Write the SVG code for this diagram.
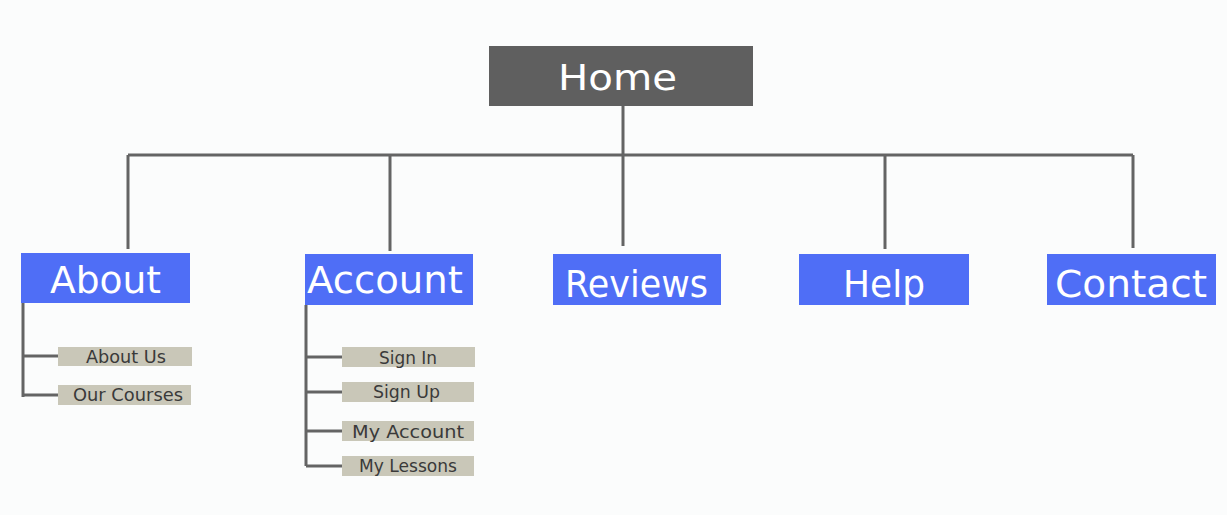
<svg xmlns="http://www.w3.org/2000/svg" width="1227" height="515" viewBox="0 0 1227 515">
<style>
.bg{fill:#fbfcfc}
.home{fill:#5f5f5f}
.main{fill:#4f6ef6}
.sub{fill:#c9c7b8}
.t{font-family:"DejaVu Sans","Liberation Sans",sans-serif;fill:#ffffff;text-anchor:start}
.big{font-size:38px}
.st{font-family:"DejaVu Sans","Liberation Sans",sans-serif;fill:#3a3a3a;font-size:17px}
.ln{stroke:#646464;stroke-width:3;fill:none}
</style>
<rect class="bg" x="0" y="0" width="1227" height="515"/>
<g id="connectors">
<path class="ln" d="M623 106V155M128 155H1133M128 155V249M390 155V251M623 155V246M885 155V249M1133 155V248"/>
<path class="ln" d="M23 303V397M23 356H58M23 395H58"/>
<path class="ln" d="M306 305V466M306 357H342M306 392H342M306 431H342M306 466H342"/>
</g>
<g id="home"><rect class="home" x="489" y="46" width="264" height="60"/><text class="t" x="558" y="90" font-size="36" textLength="119" lengthAdjust="spacingAndGlyphs">Home</text></g>
<g id="about"><rect class="main" x="21" y="253" width="169" height="50"/><text class="t big" x="50" y="293" textLength="111" lengthAdjust="spacingAndGlyphs">About</text></g>
<g id="account"><rect class="main" x="305" y="254" width="168" height="51"/><text class="t big" x="307" y="293" textLength="156" lengthAdjust="spacingAndGlyphs">Account</text></g>
<g id="reviews"><rect class="main" x="553" y="254" width="168" height="51"/><text class="t big" x="565" y="297" textLength="143" lengthAdjust="spacingAndGlyphs">Reviews</text></g>
<g id="help"><rect class="main" x="799" y="254" width="170" height="51"/><text class="t big" x="843" y="297" textLength="82" lengthAdjust="spacingAndGlyphs">Help</text></g>
<g id="contact"><rect class="main" x="1047" y="254" width="169" height="51"/><text class="t big" x="1055" y="297" textLength="152" lengthAdjust="spacingAndGlyphs">Contact</text></g>
<g id="about-us"><rect class="sub" x="58" y="347" width="134" height="19"/><text class="st" x="86" y="363" textLength="80" lengthAdjust="spacingAndGlyphs">About Us</text></g>
<g id="our-courses"><rect class="sub" x="58" y="385" width="133" height="20"/><text class="st" x="73" y="401" textLength="110" lengthAdjust="spacingAndGlyphs">Our Courses</text></g>
<g id="sign-in"><rect class="sub" x="342" y="347" width="133" height="20"/><text class="st" x="379" y="364" textLength="58" lengthAdjust="spacingAndGlyphs">Sign In</text></g>
<g id="sign-up"><rect class="sub" x="342" y="382" width="132" height="20"/><text class="st" x="373" y="398" textLength="67" lengthAdjust="spacingAndGlyphs">Sign Up</text></g>
<g id="my-account"><rect class="sub" x="342" y="421" width="132" height="20"/><text class="st" x="352" y="438" textLength="112" lengthAdjust="spacingAndGlyphs">My Account</text></g>
<g id="my-lessons"><rect class="sub" x="342" y="456" width="132" height="20"/><text class="st" x="359" y="472" textLength="98" lengthAdjust="spacingAndGlyphs">My Lessons</text></g>
</svg>
